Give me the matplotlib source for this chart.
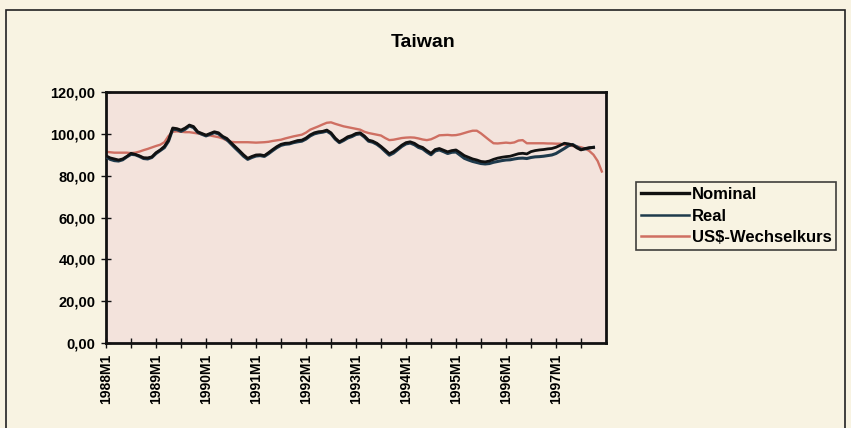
import matplotlib
matplotlib.use('Agg')
import matplotlib.pyplot as plt
import matplotlib.patches as mpatches
from matplotlib.ticker import FuncFormatter, MultipleLocator
import numpy as np

plt.rcParams['font.family'] = ['Liberation Sans', 'DejaVu Sans']

# Monthly series, 1988M1 ... 1997M12
months = [f'{y}M{m}' for y in range(1988, 1998) for m in range(1, 13)]
year_labels = [f'{y}M1' for y in range(1988, 1998)]

nominal = [
    89.5, 88.5, 88.0, 87.5, 88.0, 89.2, 90.7, 90.2, 89.5, 88.6, 88.5, 89.0,
    91.0, 92.3, 94.0, 97.0, 102.8, 102.5, 101.8, 102.8, 104.2, 103.5, 101.0, 100.2,
    99.4, 100.2, 101.0, 100.5, 98.8, 97.8, 95.8, 93.9, 92.0, 90.0, 88.3, 89.2,
    89.9, 90.0, 89.6, 91.0, 92.5, 93.9, 95.0, 95.5, 95.6, 96.2, 96.8, 97.0,
    98.0, 99.5, 100.5, 101.0, 101.2, 101.8, 100.5, 98.0, 96.2, 97.3, 98.6, 99.2,
    100.2, 100.5, 99.0, 97.0, 96.5, 95.5, 94.0, 92.3, 90.5, 91.5, 93.0, 94.6,
    95.8, 96.2, 95.5, 94.2, 93.5, 92.0, 90.7, 92.5, 93.0, 92.2, 91.4, 92.0,
    92.3, 91.0, 89.6, 88.8, 88.0, 87.5, 86.8, 86.6, 87.0, 87.8, 88.4, 88.8,
    89.1, 89.3, 89.9, 90.5, 90.7, 90.4, 91.5, 92.0, 92.3, 92.5, 92.8, 93.0,
    93.6, 94.5, 95.5, 95.2, 94.7, 93.3, 92.3, 93.0, 93.4, 93.5,
]

real = [
    89.0, 87.8, 87.2, 87.0, 87.6, 89.0, 90.2, 90.0, 89.2, 88.2, 88.0, 88.7,
    90.6, 92.0, 93.4, 96.5, 102.2, 102.0, 101.2, 102.2, 103.8, 103.0, 100.7, 99.8,
    99.0, 99.8, 100.6, 100.0, 98.4, 97.2, 95.2, 93.2, 91.3, 89.3, 87.8, 88.7,
    89.4, 89.6, 89.2, 90.5, 92.0, 93.4, 94.5, 95.0, 95.2, 95.8, 96.2, 96.5,
    97.5, 99.0, 100.0, 100.5, 100.8, 101.3, 100.0, 97.5, 95.8, 96.8, 98.0, 98.7,
    99.7, 100.0, 98.5, 96.5, 96.0, 95.0, 93.5, 91.6, 89.8, 90.8, 92.4, 94.0,
    95.2, 95.6, 94.8, 93.5, 92.8, 91.3, 90.0, 91.8, 92.3, 91.5, 90.6, 91.2,
    91.3, 89.8, 88.3, 87.5, 86.8, 86.3, 85.8, 85.6, 85.8, 86.4, 86.8, 87.2,
    87.5, 87.6, 88.0, 88.3, 88.4, 88.2, 88.7, 89.0, 89.1, 89.3, 89.6, 89.9,
    90.6, 91.8, 93.0, 94.3, 94.9, 93.8, 92.6, 92.8, 93.2, 93.6,
]

usd = [
    91.4, 91.2, 91.0, 91.0, 91.0, 91.0, 90.8, 91.0, 91.5, 92.2, 92.8, 93.5,
    94.2, 94.8, 96.0, 99.0, 101.0, 101.2, 101.0, 100.8, 100.8, 100.5, 100.2, 99.8,
    99.4, 99.2, 98.8, 98.4, 97.8, 96.8, 96.2, 96.0, 96.0, 96.0, 96.0, 95.9,
    95.8, 95.9, 96.0, 96.2, 96.6, 96.9, 97.2, 97.8, 98.3, 98.8, 99.2, 99.6,
    100.6, 102.0, 102.8, 103.6, 104.5, 105.3, 105.5, 104.8, 104.2, 103.6, 103.2, 102.8,
    102.4, 102.0, 101.0, 100.4, 100.0, 99.6, 99.2, 98.0, 97.0, 97.2, 97.6, 98.0,
    98.2, 98.3, 98.2, 97.8, 97.3, 97.0, 97.4, 98.3, 99.3, 99.4, 99.5, 99.3,
    99.4, 99.8, 100.4, 101.0, 101.5, 101.5, 100.2, 98.6, 97.0, 95.5, 95.4, 95.6,
    95.8, 95.6, 95.9, 96.8, 97.0, 95.5, 95.5, 95.5, 95.5, 95.5, 95.4, 95.4,
    95.3, 95.3, 94.8, 94.4, 94.2, 94.0, 93.6, 93.0, 91.8, 90.0, 87.0, 82.0,
]

paper = '#f8f3e2'
plot_bg = '#f3e3dc'
red = '#cf6f62'

fig = plt.figure(figsize=(8.51, 4.28), dpi=100, facecolor=paper)
ax = fig.add_axes([0.1246, 0.1986, 0.5875, 0.5864])
ax.set_facecolor(plot_bg)

x = np.arange(len(months))
ax.plot(x[:len(usd)], usd, color=red, lw=1.7, label='US$-Wechselkurs', zorder=2)
ax.plot(x[:len(real)], real, color='#1e3a4c', lw=2.2, label='Real', zorder=3)
ax.plot(x[:len(nominal)], nominal, color='#111111', lw=2.0, label='Nominal', zorder=4)

ax.set_xlim(0, 120)
ax.set_ylim(0, 120)
ax.yaxis.set_major_locator(MultipleLocator(20))
ax.yaxis.set_major_formatter(FuncFormatter(lambda v, p: f'{v:.2f}'.replace('.', ',')))

ax.set_xticks(np.arange(0, 120, 6), minor=False)
ax.set_xticklabels([months[i] if months[i] in year_labels else '' for i in range(0, 120, 6)],
                   rotation=90)

for s in ax.spines.values():
    s.set_linewidth(2)
    s.set_color('#111111')
ax.tick_params(direction='inout', length=7, width=1, color='#111111', pad=4)
for lbl in ax.get_yticklabels():
    lbl.set_fontweight('bold')
    lbl.set_fontsize(10.5)
for lbl in ax.get_xticklabels():
    lbl.set_fontweight('bold')
    lbl.set_fontsize(10)

fig.text(0.497, 0.9, 'Taiwan', ha='center', va='center', fontsize=14, fontweight='bold')

handles = [
    plt.Line2D([], [], color='#111111', lw=2.4, label='Nominal'),
    plt.Line2D([], [], color='#1e3a4c', lw=1.8, label='Real'),
    plt.Line2D([], [], color=red, lw=1.8, label='US$-Wechselkurs'),
]
leg = fig.legend(handles=handles, loc='center left', bbox_to_anchor=(0.747, 0.495),
                 frameon=True, fancybox=False, edgecolor='#111111', facecolor=paper,
                 handlelength=2.9, handletextpad=0.15, labelspacing=0.4, borderpad=0.3,
                 borderaxespad=0, prop={'weight': 'bold', 'size': 12})
leg.get_frame().set_linewidth(1.2)

# outer chart border
fig.patches.append(mpatches.Rectangle((0.007, -0.01), 0.986, 0.987, transform=fig.transFigure,
                                      fill=False, edgecolor='#222222', lw=1.2))

fig.savefig('out.png', dpi=100, facecolor=paper)
